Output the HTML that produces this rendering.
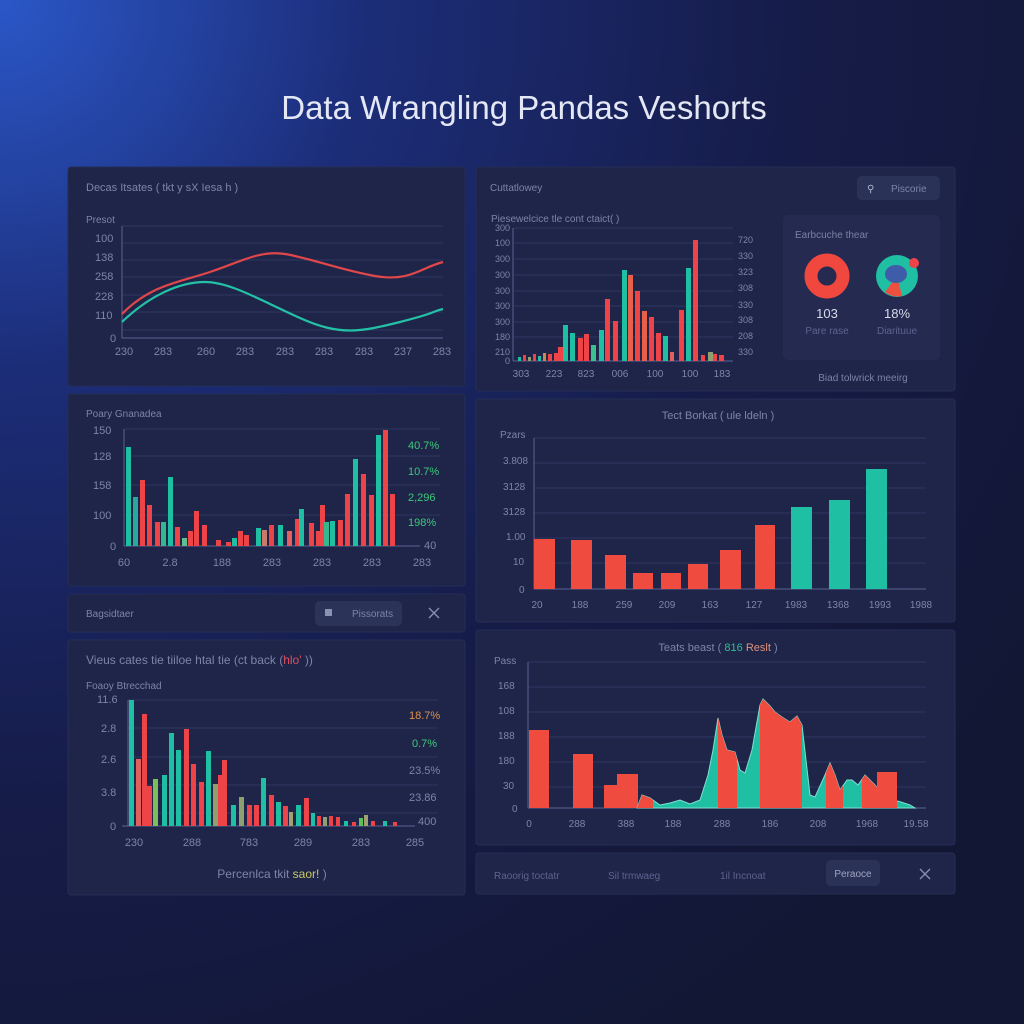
<!DOCTYPE html>
<html><head><meta charset="utf-8"><style>
html,body{margin:0;padding:0;background:#151a3a;}
svg{display:block;font-family:"Liberation Sans",sans-serif;}
</style></head><body>
<svg width="1024" height="1024" viewBox="0 0 1024 1024" xmlns="http://www.w3.org/2000/svg">
<defs>
<radialGradient id="bg" cx="0" cy="0" r="1.2" gradientUnits="objectBoundingBox">
<stop offset="0" stop-color="#2b57c8"/><stop offset="0.3" stop-color="#1c2d78"/><stop offset="0.65" stop-color="#161c48"/><stop offset="1" stop-color="#121734"/>
</radialGradient>
<clipPath id="c1"><rect x="718" y="600" width="19" height="220"/><rect x="760" y="600" width="42" height="220"/><rect x="826" y="600" width="17" height="220"/><rect x="862" y="600" width="18" height="220"/><rect x="617" y="600" width="36" height="220"/></clipPath>
</defs>
<rect width="1024" height="1024" fill="url(#bg)"/>
<text x="524" y="119" font-size="33" fill="#e4e7f4" text-anchor="middle">Data Wrangling Pandas Veshorts</text>

<g fill="#1f2548" stroke="#262d55">
<rect x="68" y="167" width="397" height="219" rx="3"/>
<rect x="476" y="167" width="479" height="224" rx="3"/>
<rect x="68" y="394" width="397" height="192" rx="3"/>
<rect x="68" y="594" width="397" height="38" rx="3"/>
<rect x="68" y="640" width="397" height="255" rx="3"/>
<rect x="476" y="399" width="479" height="223" rx="3"/>
<rect x="476" y="630" width="479" height="215" rx="3"/>
<rect x="476" y="853" width="479" height="41" rx="3"/>
</g>

<!-- Panel 1 -->
<g font-size="11" fill="#7e84a8">
<text x="86" y="191">Decas Itsates ( tkt y sX Iesa h )</text>
<text x="86" y="223" font-size="10">Presot</text>
<g stroke="#2f3762" stroke-width="1"><line x1="122" y1="226" x2="443" y2="226"/><line x1="122" y1="243" x2="443" y2="243"/><line x1="122" y1="260" x2="443" y2="260"/><line x1="122" y1="277" x2="443" y2="277"/><line x1="122" y1="295" x2="443" y2="295"/><line x1="122" y1="312" x2="443" y2="312"/><line x1="122" y1="330" x2="443" y2="330"/></g>
<line x1="122" y1="226" x2="122" y2="338" stroke="#5a6190"/><line x1="122" y1="338" x2="443" y2="338" stroke="#5a6190"/>
<text x="95" y="242">100</text><text x="95" y="261">138</text><text x="95" y="280">258</text><text x="95" y="300">228</text><text x="95" y="319">110</text><text x="110" y="342">0</text>
<g text-anchor="middle"><text x="124" y="355">230</text><text x="163" y="355">283</text><text x="206" y="355">260</text><text x="245" y="355">283</text><text x="285" y="355">283</text><text x="324" y="355">283</text><text x="364" y="355">283</text><text x="403" y="355">237</text><text x="442" y="355">283</text></g>
</g>
<path d="M122,314 C150,285 180,282 210,272 S260,250 285,254 S340,270 375,276 S420,268 443,262" fill="none" stroke="#e0474a" stroke-width="2.2"/>
<path d="M122,322 C150,295 180,282 205,282 S260,300 300,318 S360,332 400,322 S430,312 443,309" fill="none" stroke="#23c1a6" stroke-width="2.2"/>

<!-- Panel 3 -->
<g font-size="11" fill="#7e84a8">
<text x="86" y="417" font-size="10">Poary Gnanadea</text>
<g stroke="#2f3762"><line x1="124" y1="429" x2="440" y2="429"/><line x1="124" y1="456" x2="440" y2="456"/><line x1="124" y1="485" x2="440" y2="485"/><line x1="124" y1="515" x2="440" y2="515"/></g>
<line x1="124" y1="429" x2="124" y2="546" stroke="#5a6190"/><line x1="124" y1="546" x2="420" y2="546" stroke="#5a6190"/>
<text x="93" y="434">150</text><text x="93" y="460">128</text><text x="93" y="489">158</text><text x="93" y="519">100</text><text x="110" y="550">0</text>
<g text-anchor="middle"><text x="124" y="566">60</text><text x="170" y="566">2.8</text><text x="222" y="566">188</text><text x="272" y="566">283</text><text x="322" y="566">283</text><text x="372" y="566">283</text><text x="422" y="566">283</text></g>
<text x="408" y="449" fill="#3cc97a">40.7%</text><text x="408" y="475" fill="#3cc97a">10.7%</text><text x="408" y="501" fill="#3cc97a">2,296</text><text x="408" y="526" fill="#3cc97a">198%</text><text x="424" y="549">40</text>
</g>
<g>
<rect x="126" y="447" width="5" height="99" fill="#1fbfa3"/><rect x="133" y="497" width="5" height="49" fill="#2aa99a"/><rect x="140" y="480" width="5" height="66" fill="#ee4448"/><rect x="147" y="505" width="5" height="41" fill="#ee4448"/><rect x="155" y="522" width="5" height="24" fill="#ee4448"/><rect x="161" y="522" width="5" height="24" fill="#35b88f"/><rect x="168" y="477" width="5" height="69" fill="#1fbfa3"/><rect x="175" y="527" width="5" height="19" fill="#ee4448"/><rect x="182" y="538" width="5" height="8" fill="#5fbf8e"/><rect x="188" y="531" width="5" height="15" fill="#ee4448"/><rect x="194" y="511" width="5" height="35" fill="#ee4448"/><rect x="202" y="525" width="5" height="21" fill="#ee4448"/><rect x="216" y="540" width="5" height="6" fill="#ee4448"/><rect x="226" y="542" width="5" height="4" fill="#ee4448"/><rect x="232" y="538" width="5" height="8" fill="#1fbfa3"/><rect x="238" y="531" width="5" height="15" fill="#ee4448"/><rect x="244" y="535" width="5" height="11" fill="#ee4448"/><rect x="256" y="528" width="5" height="18" fill="#1fbfa3"/><rect x="262" y="530" width="5" height="16" fill="#c97a6a"/><rect x="269" y="525" width="5" height="21" fill="#ee4448"/><rect x="278" y="525" width="5" height="21" fill="#1fbfa3"/><rect x="287" y="531" width="5" height="15" fill="#e56060"/><rect x="295" y="519" width="5" height="27" fill="#ee4448"/><rect x="299" y="509" width="5" height="37" fill="#1fbfa3"/><rect x="309" y="523" width="5" height="23" fill="#ee4448"/><rect x="316" y="531" width="5" height="15" fill="#ee4448"/><rect x="320" y="505" width="5" height="41" fill="#ee4448"/><rect x="324" y="522" width="5" height="24" fill="#35b88f"/><rect x="330" y="521" width="5" height="25" fill="#1fbfa3"/><rect x="338" y="520" width="5" height="26" fill="#ee4448"/><rect x="345" y="494" width="5" height="52" fill="#ee4448"/><rect x="353" y="459" width="5" height="87" fill="#1fbfa3"/><rect x="361" y="474" width="5" height="72" fill="#ee4448"/><rect x="369" y="495" width="5" height="51" fill="#ee4448"/><rect x="376" y="435" width="5" height="111" fill="#1fbfa3"/><rect x="383" y="430" width="5" height="116" fill="#ee4448"/><rect x="390" y="494" width="5" height="52" fill="#ee4448"/>
</g>

<!-- Panel 4 -->
<g font-size="10" fill="#7e84a8"><text x="86" y="617">Bagsidtaer</text>
<rect x="315" y="601" width="87" height="25" rx="5" fill="#2c3358"/><rect x="325" y="609" width="7" height="7" fill="#8b91b3"/><text x="352" y="617">Pissorats</text>
<path d="M429,608 L439,618 M439,608 L429,618" stroke="#8b91b3" stroke-width="1.3"/></g>

<!-- Panel 5 -->
<g font-size="11" fill="#7e84a8">
<text x="86" y="664" font-size="12">Vieus cates tie tiiloe htal tie (ct back (<tspan fill="#e05060">hlo'</tspan> ))</text>
<text x="86" y="689" font-size="10">Foaoy Btrecchad</text>
<g stroke="#2f3762"><line x1="128" y1="700" x2="438" y2="700"/><line x1="128" y1="728" x2="438" y2="728"/><line x1="128" y1="757" x2="438" y2="757"/><line x1="128" y1="785" x2="438" y2="785"/><line x1="128" y1="813" x2="438" y2="813"/></g>
<line x1="128" y1="700" x2="128" y2="826" stroke="#5a6190"/><line x1="122" y1="826" x2="415" y2="826" stroke="#5a6190"/>
<text x="97" y="703">11.6</text><text x="101" y="732">2.8</text><text x="101" y="763">2.6</text><text x="101" y="796">3.8</text><text x="110" y="830">0</text>
<text x="409" y="719" fill="#e0904a">18.7%</text><text x="412" y="747" fill="#3cc97a">0.7%</text><text x="409" y="774">23.5%</text><text x="409" y="801">23.86</text><text x="418" y="825">400</text>
<g text-anchor="middle"><text x="134" y="846">230</text><text x="192" y="846">288</text><text x="249" y="846">783</text><text x="303" y="846">289</text><text x="361" y="846">283</text><text x="415" y="846">285</text></g>
<text x="272" y="878" text-anchor="middle" font-size="12">Percenlca  tkit  <tspan fill="#c8c860">saor!</tspan> )</text>
</g>
<g>
<rect x="129" y="700" width="5" height="126" fill="#1fbfa3"/><rect x="136" y="759" width="5" height="67" fill="#e06060"/><rect x="142" y="714" width="5" height="112" fill="#ee4448"/><rect x="147" y="786" width="5" height="40" fill="#ee4448"/><rect x="153" y="779" width="5" height="47" fill="#7cbf5a"/><rect x="162" y="775" width="5" height="51" fill="#1fbfa3"/><rect x="169" y="733" width="5" height="93" fill="#1fbfa3"/><rect x="176" y="750" width="5" height="76" fill="#1fbfa3"/><rect x="184" y="729" width="5" height="97" fill="#ee4448"/><rect x="191" y="764" width="5" height="62" fill="#ee4448"/><rect x="199" y="782" width="5" height="44" fill="#ee4448"/><rect x="206" y="751" width="5" height="75" fill="#1fbfa3"/><rect x="213" y="784" width="5" height="42" fill="#8fa070"/><rect x="218" y="775" width="5" height="51" fill="#ee4448"/><rect x="222" y="760" width="5" height="66" fill="#ee4448"/><rect x="231" y="805" width="5" height="21" fill="#1fbfa3"/><rect x="239" y="797" width="5" height="29" fill="#8fa070"/><rect x="247" y="805" width="5" height="21" fill="#ee4448"/><rect x="254" y="805" width="5" height="21" fill="#ee4448"/><rect x="261" y="778" width="5" height="48" fill="#1fbfa3"/><rect x="269" y="795" width="5" height="31" fill="#ee4448"/><rect x="276" y="802" width="5" height="24" fill="#1fbfa3"/><rect x="283" y="806" width="5" height="20" fill="#ee4448"/><rect x="289" y="812" width="4" height="14" fill="#a0a070"/><rect x="296" y="805" width="5" height="21" fill="#1fbfa3"/><rect x="304" y="798" width="5" height="28" fill="#ee4448"/><rect x="311" y="813" width="4" height="13" fill="#1fbfa3"/><rect x="317" y="816" width="4" height="10" fill="#ee4448"/><rect x="323" y="817" width="4" height="9" fill="#8fa070"/><rect x="329" y="816" width="4" height="10" fill="#ee4448"/><rect x="336" y="817" width="4" height="9" fill="#ee4448"/><rect x="344" y="821" width="4" height="5" fill="#1fbfa3"/><rect x="352" y="822" width="4" height="4" fill="#ee4448"/><rect x="359" y="818" width="4" height="8" fill="#5fbf5a"/><rect x="364" y="815" width="4" height="11" fill="#a0a070"/><rect x="371" y="821" width="4" height="5" fill="#ee4448"/><rect x="383" y="821" width="4" height="5" fill="#1fbfa3"/><rect x="393" y="822" width="4" height="4" fill="#ee4448"/>
</g>

<!-- Panel 2 -->
<g font-size="10" fill="#7e84a8">
<text x="490" y="191">Cuttatlowey</text>
<rect x="857" y="176" width="83" height="24" rx="5" fill="#2b3257"/><text x="867" y="192" fill="#b0b5cf">⚲</text><text x="891" y="192">Piscorie</text>
<text x="491" y="222">Piesewelcice  tle cont  ctaict( )</text>
<g stroke="#2f3762"><line x1="513" y1="228" x2="733" y2="228"/><line x1="513" y1="243" x2="733" y2="243"/><line x1="513" y1="259" x2="733" y2="259"/><line x1="513" y1="275" x2="733" y2="275"/><line x1="513" y1="291" x2="733" y2="291"/><line x1="513" y1="306" x2="733" y2="306"/><line x1="513" y1="322" x2="733" y2="322"/><line x1="513" y1="337" x2="733" y2="337"/></g>
<line x1="513" y1="228" x2="513" y2="361" stroke="#5a6190"/><line x1="513" y1="361" x2="733" y2="361" stroke="#5a6190"/>
<g font-size="9"><text x="495" y="231">300</text><text x="495" y="246">100</text><text x="495" y="262">300</text><text x="495" y="278">300</text><text x="495" y="294">300</text><text x="495" y="309">300</text><text x="495" y="325">300</text><text x="495" y="340">180</text><text x="495" y="355">210</text><text x="505" y="364">0</text>
<text x="738" y="243">720</text><text x="738" y="259">330</text><text x="738" y="275">323</text><text x="738" y="291">308</text><text x="738" y="308">330</text><text x="738" y="323">308</text><text x="738" y="339">208</text><text x="738" y="355">330</text></g>
<g text-anchor="middle" font-size="10"><text x="521" y="377">303</text><text x="554" y="377">223</text><text x="586" y="377">823</text><text x="620" y="377">006</text><text x="655" y="377">100</text><text x="690" y="377">100</text><text x="722" y="377">183</text></g>
</g>
<g>
<rect x="518" y="357" width="3" height="4" fill="#1fbfa3"/><rect x="523" y="355" width="3" height="6" fill="#ee4448"/><rect x="528" y="357" width="3" height="4" fill="#8fa070"/><rect x="533" y="354" width="3" height="7" fill="#ee4448"/><rect x="538" y="356" width="3" height="5" fill="#1fbfa3"/><rect x="543" y="353" width="3" height="8" fill="#c98a50"/><rect x="548" y="354" width="4" height="7" fill="#ee4448"/><rect x="554" y="353" width="4" height="8" fill="#ee4448"/><rect x="558" y="347" width="5" height="14" fill="#ee4448"/>
<rect x="563" y="325" width="5" height="36" fill="#1fbfa3"/><rect x="570" y="333" width="5" height="28" fill="#1fbfa3"/><rect x="578" y="338" width="5" height="23" fill="#ee4448"/><rect x="584" y="334" width="5" height="27" fill="#ee4448"/><rect x="591" y="345" width="5" height="16" fill="#3bbf90"/><rect x="599" y="330" width="5" height="31" fill="#1fbfa3"/><rect x="605" y="299" width="5" height="62" fill="#ee4448"/><rect x="613" y="321" width="5" height="40" fill="#ee4448"/><rect x="622" y="270" width="5" height="91" fill="#1fbfa3"/><rect x="628" y="275" width="5" height="86" fill="#e8604a"/><rect x="635" y="291" width="5" height="70" fill="#ee4448"/><rect x="642" y="311" width="5" height="50" fill="#e8604a"/><rect x="649" y="317" width="5" height="44" fill="#ee4448"/><rect x="656" y="333" width="5" height="28" fill="#ee4448"/><rect x="663" y="336" width="5" height="25" fill="#1fbfa3"/><rect x="670" y="352" width="4" height="9" fill="#e06060"/><rect x="679" y="310" width="5" height="51" fill="#ee4448"/><rect x="686" y="268" width="5" height="93" fill="#1fbfa3"/><rect x="693" y="240" width="5" height="121" fill="#ee4448"/><rect x="701" y="355" width="4" height="6" fill="#ee4448"/><rect x="708" y="352" width="5" height="9" fill="#8fa070"/><rect x="713" y="354" width="4" height="7" fill="#ee4448"/><rect x="719" y="355" width="5" height="6" fill="#ee4448"/>
</g>
<rect x="783" y="215" width="157" height="145" rx="5" fill="#242a50"/>
<g font-size="10" fill="#7c82a5"><text x="795" y="238">Earbcuche thear</text>
<circle cx="827" cy="276" r="16" fill="none" stroke="#f0483e" stroke-width="13"/>
<circle cx="897" cy="276" r="21" fill="#1fbfa3"/><path d="M897,276 L885,292 A21,21 0 0 0 902,296 Z" fill="#ee5040"/><ellipse cx="896" cy="274" rx="11" ry="9" fill="#3f5ca8"/><circle cx="914" cy="263" r="5" fill="#ee4448"/>
<text x="827" y="318" text-anchor="middle" font-size="13" fill="#d8dbea">103</text><text x="897" y="318" text-anchor="middle" font-size="13" fill="#d8dbea">18%</text>
<text x="827" y="334" text-anchor="middle" fill="#5d6390">Pare rase</text><text x="897" y="334" text-anchor="middle" fill="#5d6390">Diarituue</text>
<text x="863" y="381" text-anchor="middle" fill="#7c82a5">Biad tolwrick meeirg</text></g>

<!-- Panel 6 -->
<g font-size="10" fill="#7e84a8">
<text x="718" y="419" text-anchor="middle" font-size="11">Tect Borkat  ( ule  ldeln )</text>
<g stroke="#2f3762"><line x1="534" y1="438" x2="926" y2="438"/><line x1="534" y1="463" x2="926" y2="463"/><line x1="534" y1="488" x2="926" y2="488"/><line x1="534" y1="513" x2="926" y2="513"/><line x1="534" y1="538" x2="926" y2="538"/><line x1="534" y1="563" x2="926" y2="563"/></g>
<line x1="534" y1="438" x2="534" y2="589" stroke="#5a6190"/><line x1="534" y1="589" x2="926" y2="589" stroke="#5a6190"/>
<text x="500" y="438">Pzars</text><text x="503" y="464">3.808</text><text x="503" y="490">3128</text><text x="503" y="515">3128</text><text x="506" y="540">1.00</text><text x="513" y="565">10</text><text x="519" y="593">0</text>
<g text-anchor="middle"><text x="537" y="608">20</text><text x="580" y="608">188</text><text x="624" y="608">259</text><text x="667" y="608">209</text><text x="710" y="608">163</text><text x="754" y="608">127</text><text x="796" y="608">1983</text><text x="838" y="608">1368</text><text x="880" y="608">1993</text><text x="921" y="608">1988</text></g>
</g>
<g fill="#f04b3f"><rect x="534" y="539" width="21" height="50"/><rect x="571" y="540" width="21" height="49"/><rect x="605" y="555" width="21" height="34"/><rect x="633" y="573" width="20" height="16"/><rect x="661" y="573" width="20" height="16"/><rect x="688" y="564" width="20" height="25"/><rect x="720" y="550" width="21" height="39"/><rect x="755" y="525" width="20" height="64"/></g>
<g fill="#1fbfa3"><rect x="791" y="507" width="21" height="82"/><rect x="829" y="500" width="21" height="89"/><rect x="866" y="469" width="21" height="120"/></g>

<!-- Panel 7 -->
<g font-size="10" fill="#7e84a8">
<text x="718" y="651" text-anchor="middle" font-size="11">Teats beast  ( <tspan fill="#2fbf90">816</tspan> <tspan fill="#e0907a">Reslt</tspan> )</text>
<g stroke="#2f3762"><line x1="528" y1="662" x2="926" y2="662"/><line x1="528" y1="687" x2="926" y2="687"/><line x1="528" y1="712" x2="926" y2="712"/><line x1="528" y1="737" x2="926" y2="737"/><line x1="528" y1="762" x2="926" y2="762"/><line x1="528" y1="787" x2="926" y2="787"/></g>
<line x1="528" y1="662" x2="528" y2="808" stroke="#5a6190"/><line x1="528" y1="808" x2="926" y2="808" stroke="#5a6190"/>
<text x="494" y="664">Pass</text><text x="498" y="689">168</text><text x="498" y="714">108</text><text x="498" y="739">188</text><text x="498" y="764">180</text><text x="503" y="789">30</text><text x="512" y="812">0</text>
<g text-anchor="middle"><text x="529" y="827">0</text><text x="577" y="827">288</text><text x="626" y="827">388</text><text x="673" y="827">188</text><text x="722" y="827">288</text><text x="770" y="827">186</text><text x="818" y="827">208</text><text x="867" y="827">1968</text><text x="916" y="827">19.58</text></g>
</g>
<g fill="#f04b3f"><rect x="529" y="730" width="20" height="78"/><rect x="573" y="754" width="20" height="54"/><rect x="604" y="785" width="14" height="23"/><rect x="617" y="774" width="21" height="34"/></g>
<path d="M637,808 L642,795 650,798 660,805 670,803 680,800 690,804 700,800 708,775 713,750 718,718 722,735 727,750 735,752 740,770 745,773 752,750 760,705 763,699 770,706 775,712 782,717 790,722 797,716 802,725 806,760 810,795 815,797 825,775 830,763 835,775 840,790 847,780 852,780 858,785 865,775 875,785 888,800 893,803 898,801 910,805 915,808 Z" fill="#1fbfa3" stroke="#7fe0d0" stroke-width="1"/>
<path d="M637,808 L642,795 650,798 660,805 670,803 680,800 690,804 700,800 708,775 713,750 718,718 722,735 727,750 735,752 740,770 745,773 752,750 760,705 763,699 770,706 775,712 782,717 790,722 797,716 802,725 806,760 810,795 815,797 825,775 830,763 835,775 840,790 847,780 852,780 858,785 865,775 875,785 888,800 893,803 898,801 910,805 915,808 Z" fill="#f04b3f" clip-path="url(#c1)"/>
<rect x="877" y="772" width="20" height="36" fill="#f04b3f"/>

<!-- Panel 8 -->
<g font-size="10" fill="#5d6390"><text x="494" y="879">Raoorig toctatr</text><text x="608" y="879">Sil trmwaeg</text><text x="720" y="879">1il Incnoat</text>
<rect x="826" y="860" width="54" height="26" rx="5" fill="#2b3257"/><text x="853" y="877" text-anchor="middle" fill="#a0a5c2">Peraoce</text>
<path d="M920,869 L930,879 M930,869 L920,879" stroke="#8b91b3" stroke-width="1.3"/></g>
</svg>
</body></html>
